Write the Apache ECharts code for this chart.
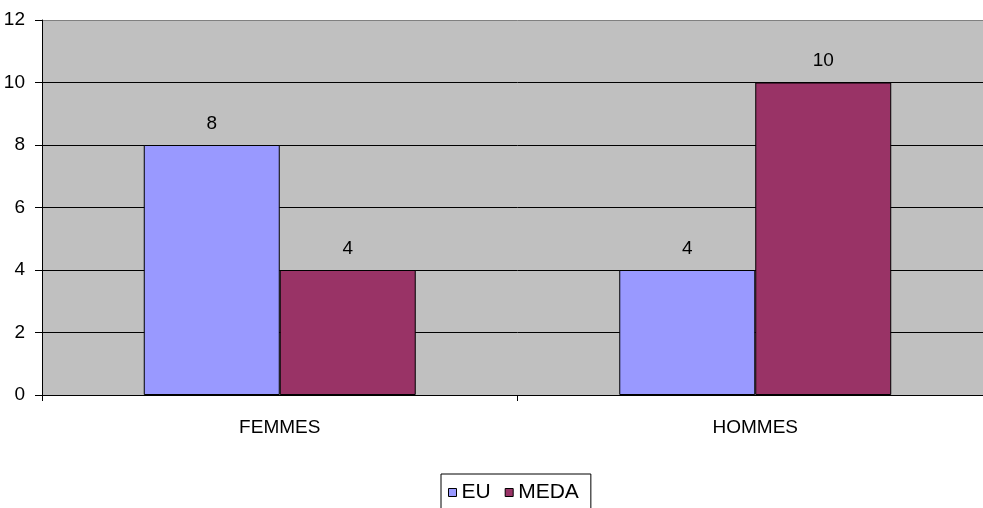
<!DOCTYPE html>
<html><head><meta charset="utf-8">
<script src="https://cdn.jsdelivr.net/npm/echarts@6/dist/echarts.min.js"></script>
<style>html,body{margin:0;padding:0;background:#fff;overflow:hidden;width:983px;height:508px}#c{width:993px;height:508px}</style>
</head><body><div id="c"></div>
<script>
const categories = ['FEMMES', 'HOMMES'];
const euValues = [8, 4];
const medaValues = [4, 10];
const yTicks = [0, 2, 4, 6, 8, 10, 12];

const chart = echarts.init(document.getElementById('c'));
const font = 'Liberation Sans, Arial, sans-serif';
const barLabel = {show: true, position: 'top', distance: 12, color: '#000', fontSize: 19, fontFamily: font};
chart.setOption({
  animation: false,
  textStyle: {fontFamily: font},
  grid: {left: 42, right: 0, top: 20, bottom: 113, show: true, backgroundColor: '#C0C0C0', borderWidth: 0},
  legend: {
    left: 441, top: 474, data: ['EU', 'MEDA'],
    icon: 'rect', itemWidth: 8, itemHeight: 8, itemGap: 14,
    borderColor: '#000', borderWidth: 1, padding: [8, 12, 14, 7],
    itemStyle: {borderColor: '#000', borderWidth: 1},
    textStyle: {fontSize: 21, color: '#000', fontFamily: font}
  },
  xAxis: {
    type: 'category', data: categories,
    axisLine: {lineStyle: {color: '#000', width: 1}},
    axisTick: {show: true, length: 6, lineStyle: {color: '#000'}},
    axisLabel: {color: '#000', fontSize: 19, margin: 23, fontFamily: font}
  },
  yAxis: {
    type: 'value', min: 0, max: 12, interval: 2,
    axisLine: {show: true, lineStyle: {color: '#000', width: 1}},
    axisTick: {show: true, length: 7, lineStyle: {color: '#000'}},
    axisLabel: {color: '#000', fontSize: 19, margin: 17, fontFamily: font,
      formatter: v => yTicks.includes(v) ? String(v) : ''},
    splitLine: {show: true, lineStyle: {color: ['#000', '#000', '#000', '#000', '#000', '#000', '#808080'], width: 1}}
  },
  series: [
    {name: 'EU', type: 'bar', data: euValues, barGap: '0%', barCategoryGap: '42.8%',
      itemStyle: {color: '#9999FF', borderColor: '#000', borderWidth: 1}, label: barLabel},
    {name: 'MEDA', type: 'bar', data: medaValues, barGap: '0%', barCategoryGap: '42.8%',
      itemStyle: {color: '#993366', borderColor: '#000', borderWidth: 1}, label: barLabel}
  ]
});
</script></body></html>
